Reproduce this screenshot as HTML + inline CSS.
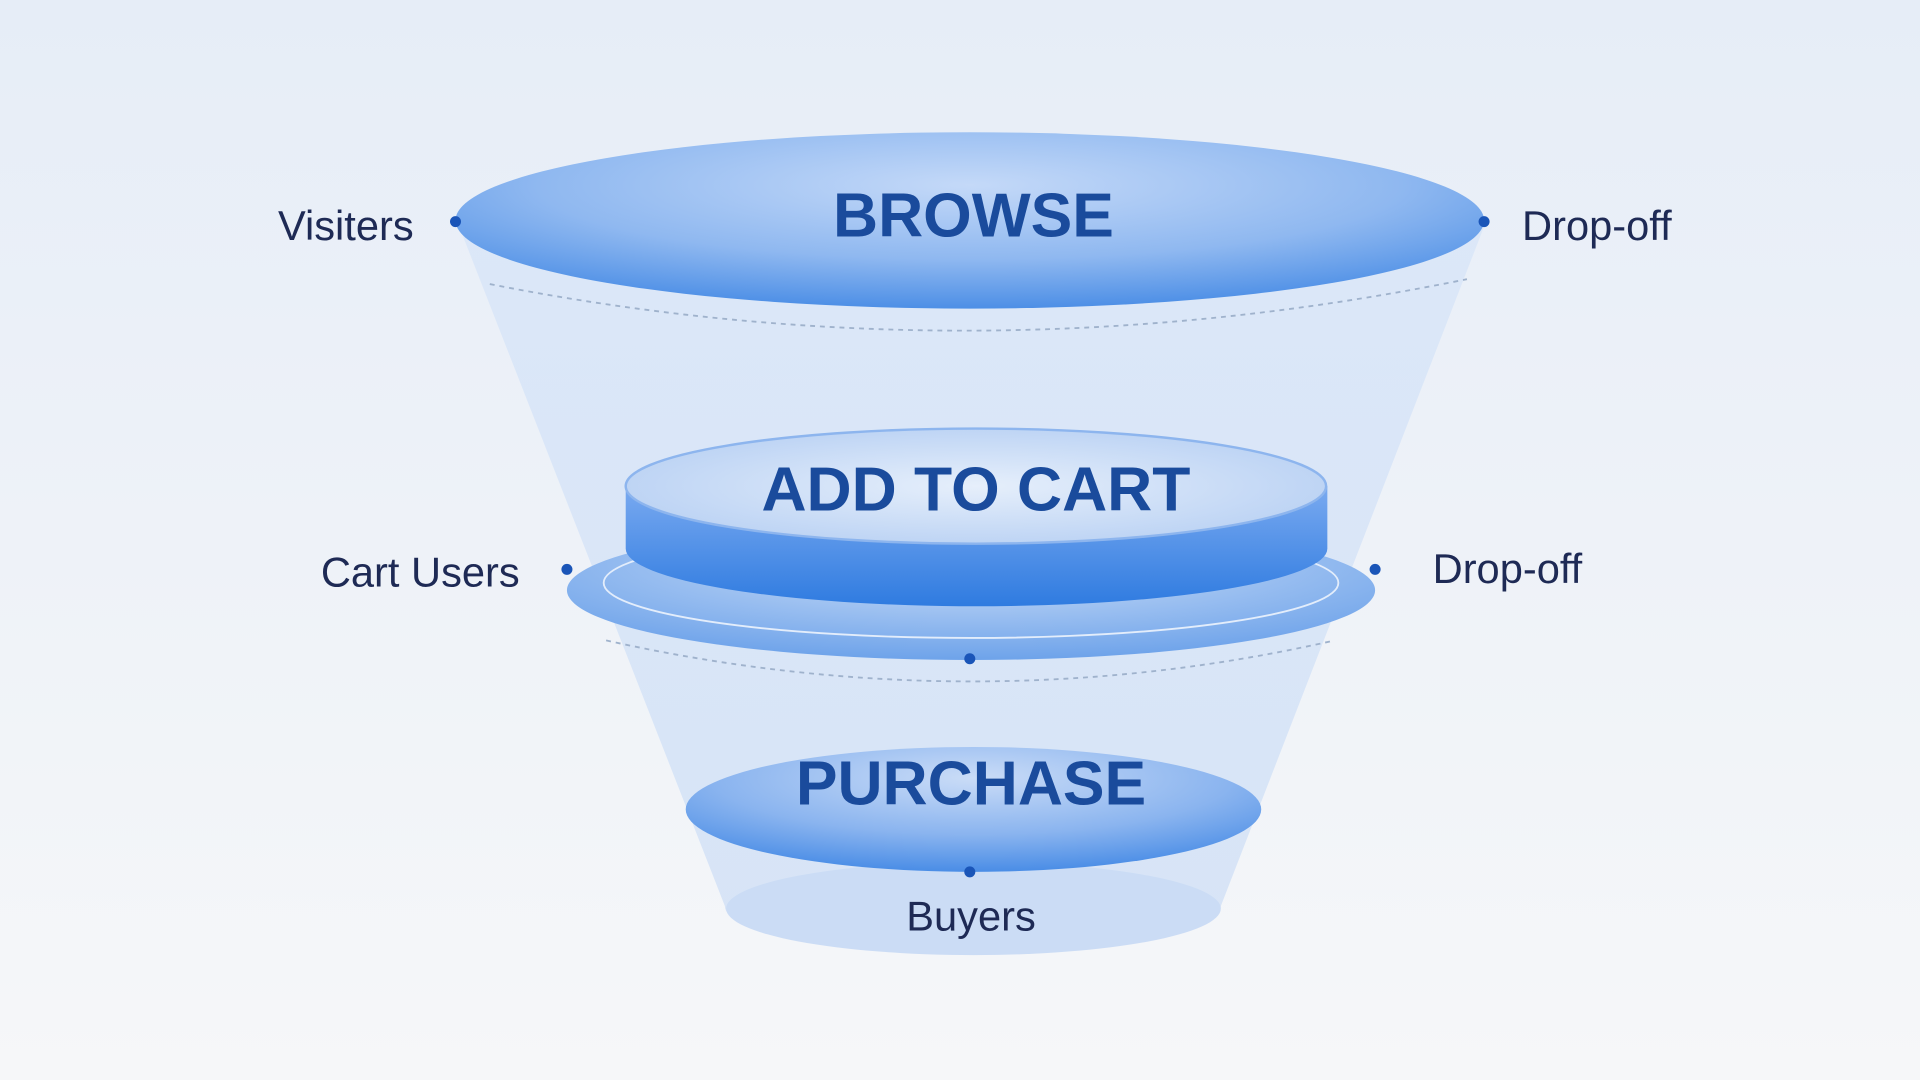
<!DOCTYPE html>
<html><head><meta charset="utf-8"><style>
html,body{margin:0;padding:0;background:#f2f5fa;}
svg{display:block;}
</style></head><body>
<svg width="1920" height="1080" viewBox="0 0 1568 882" preserveAspectRatio="none" xmlns="http://www.w3.org/2000/svg">
<defs>
<linearGradient id="bg" x1="0" y1="0" x2="0" y2="1"><stop offset="0" stop-color="#e6edf7"/><stop offset="1" stop-color="#f6f7f9"/></linearGradient>
<linearGradient id="cone" x1="0" y1="0" x2="0" y2="1"><stop offset="0" stop-color="#d9e6f8"/><stop offset="1" stop-color="#d2e1f6"/></linearGradient>
<radialGradient id="top" cx="0.5" cy="0.3" r="0.7"><stop offset="0" stop-color="#c4d9f8"/><stop offset="0.6" stop-color="#8fb8f0"/><stop offset="1" stop-color="#4d8fe6"/></radialGradient>
<radialGradient id="mid" cx="0.5" cy="0.3" r="0.7"><stop offset="0" stop-color="#cfe0f8"/><stop offset="1" stop-color="#6ea3ea"/></radialGradient>
<linearGradient id="cyl" x1="0" y1="0" x2="0" y2="1"><stop offset="0" stop-color="#7aaaf0"/><stop offset="1" stop-color="#2f7be0"/></linearGradient>
<radialGradient id="cyltop" cx="0.5" cy="0.5" r="0.6"><stop offset="0" stop-color="#e6effb"/><stop offset="1" stop-color="#b6cff3"/></radialGradient>
<radialGradient id="pur" cx="0.5" cy="0.25" r="0.75"><stop offset="0" stop-color="#cadcf7"/><stop offset="0.6" stop-color="#8ab4ef"/><stop offset="1" stop-color="#4a8de6"/></radialGradient>
</defs>
<rect width="1568" height="882" fill="url(#bg)"/>
<path d="M375,185 L592,740 A202,38 0 0 0 997,740 L1212,185 Z" fill="url(#cone)" opacity="0.85"/>
<ellipse cx="795" cy="742" rx="202" ry="38" fill="#cbdcf5"/>
<ellipse cx="792" cy="180" rx="420" ry="72" fill="url(#top)"/>
<path d="M400,232 Q795,310 1198,228" fill="none" stroke="#9fb2cc" stroke-width="1.5" stroke-dasharray="4,4"/>
<ellipse cx="793" cy="482" rx="330" ry="57" fill="url(#mid)"/>
<ellipse cx="793" cy="476" rx="300" ry="45" fill="none" stroke="#e3edfb" stroke-width="1.5"/>
<path d="M511,397 L511,448 A286,47 0 0 0 1084,448 L1084,397 Z" fill="url(#cyl)"/>
<ellipse cx="797" cy="397" rx="286" ry="47" fill="url(#cyltop)" stroke="#8db5ee" stroke-width="2"/>
<path d="M495,523 Q795,590 1090,523" fill="none" stroke="#9fb2cc" stroke-width="1.5" stroke-dasharray="4,4"/>
<ellipse cx="795" cy="661" rx="235" ry="51" fill="url(#pur)"/>
<g font-family="Liberation Sans, sans-serif" font-weight="bold" fill="#1a4b9c" text-anchor="middle">
<text x="795" y="193" font-size="51">BROWSE</text>
<text x="797" y="417" font-size="51">ADD TO CART</text>
<text x="793" y="657" font-size="51">PURCHASE</text>
</g>
<g font-family="Liberation Sans, sans-serif" fill="#1e2a55" font-size="34">
<text x="227" y="196">Visiters</text>
<text x="1243" y="196">Drop-off</text>
<text x="262" y="479">Cart Users</text>
<text x="1170" y="476">Drop-off</text>
<text x="793" y="760" text-anchor="middle">Buyers</text>
</g>
<g fill="#1a55b8">
<circle cx="372" cy="181" r="4.5"/><circle cx="1212" cy="181" r="4.5"/>
<circle cx="463" cy="465" r="4.5"/><circle cx="1123" cy="465" r="4.5"/>
<circle cx="792" cy="538" r="4.5"/><circle cx="792" cy="712" r="4.5"/>
</g>
</svg>
</body></html>
